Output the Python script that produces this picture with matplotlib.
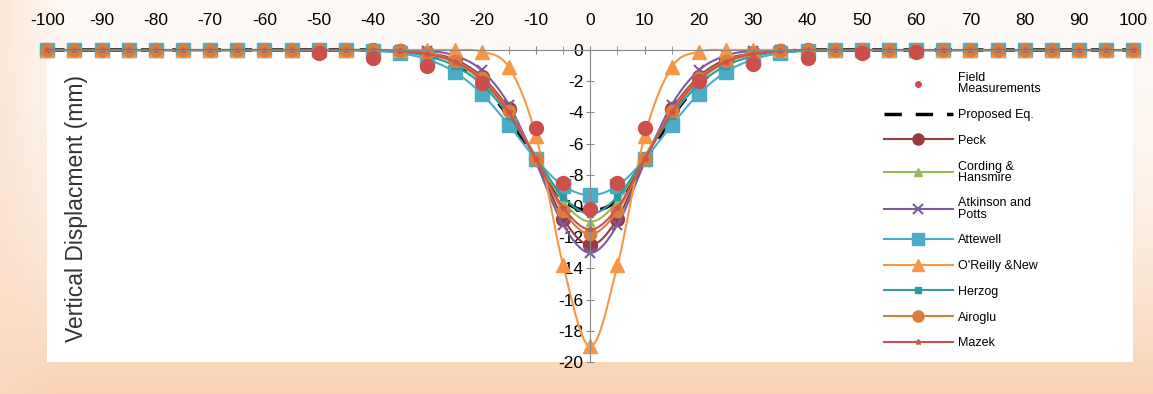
import numpy as np
import matplotlib.pyplot as plt
from matplotlib.lines import Line2D
from matplotlib.ticker import MultipleLocator

plt.rcParams['font.family'] = ['Liberation Sans', 'DejaVu Sans']

# half profile x = 0, 5, ..., 100 (mirrored about the tunnel axis)
half_x = np.arange(0, 105, 5)

field_x = [-50, -40, -30, -20, -10, -5, 0, 5, 10, 20, 30, 40, 50, 60]
field_y = [-0.2, -0.5, -1.0, -2.1, -5.0, -8.5, -10.2, -8.5, -5.0, -2.0, -0.9, -0.5, -0.2, -0.1]

proposed = [-10.3, -9.6, -7.2, -4.3, -2.2, -0.9, -0.3, -0.1, 0, 0, 0, 0, 0, 0, 0, 0, 0, 0, 0, 0, 0]
peck = [-12.5, -10.8, -7.0, -3.8, -1.7, -0.6, -0.2, -0.05, 0, 0, 0, 0, 0, 0, 0, 0, 0, 0, 0, 0, 0]
cording = [-11.0, -9.7, -6.8, -4.0, -2.0, -0.8, -0.3, -0.1, 0, 0, 0, 0, 0, 0, 0, 0, 0, 0, 0, 0, 0]
atkinson = [-13.0, -11.2, -7.2, -3.5, -1.3, -0.35, -0.05, 0, 0, 0, 0, 0, 0, 0, 0, 0, 0, 0, 0, 0, 0]
attewell = [-9.3, -8.7, -7.0, -4.8, -2.8, -1.4, -0.6, -0.2, -0.05, 0, 0, 0, 0, 0, 0, 0, 0, 0, 0, 0, 0]
oreilly = [-19.0, -13.8, -5.5, -1.1, -0.1, 0, 0, 0, 0, 0, 0, 0, 0, 0, 0, 0, 0, 0, 0, 0, 0]
herzog = [-10.5, -9.4, -6.9, -4.2, -2.2, -1.0, -0.4, -0.1, 0, 0, 0, 0, 0, 0, 0, 0, 0, 0, 0, 0, 0]
airoglu = [-11.8, -10.3, -7.0, -3.9, -1.8, -0.7, -0.2, -0.05, 0, 0, 0, 0, 0, 0, 0, 0, 0, 0, 0, 0, 0]
mazek = [-11.5, -10.1, -7.0, -4.0, -1.9, -0.75, -0.25, -0.05, 0, 0, 0, 0, 0, 0, 0, 0, 0, 0, 0, 0, 0]


def full(h):
    h = np.asarray(h, dtype=float)
    return np.concatenate([h[:0:-1], h])


def smooth(xs, ys, n=12):
    # Catmull-Rom path through the points, like Excel's smoothed line
    xs = np.asarray(xs, float)
    ys = np.asarray(ys, float)
    px = np.concatenate([[2 * xs[0] - xs[1]], xs, [2 * xs[-1] - xs[-2]]])
    py = np.concatenate([[2 * ys[0] - ys[1]], ys, [2 * ys[-1] - ys[-2]]])
    t = np.linspace(0, 1, n, endpoint=False)[:, None]
    ox, oy = [], []
    for i in range(1, len(px) - 2):
        for p, o in ((px, ox), (py, oy)):
            p0, p1, p2, p3 = p[i - 1], p[i], p[i + 1], p[i + 2]
            o.append((0.5 * (2 * p1 + (-p0 + p2) * t + (2 * p0 - 5 * p1 + 4 * p2 - p3) * t ** 2
                             + (-p0 + 3 * p1 - 3 * p2 + p3) * t ** 3)).ravel())
    return np.concatenate(ox + [[xs[-1]]]), np.concatenate(oy + [[ys[-1]]])


x = np.concatenate([-half_x[:0:-1], half_x])

fig = plt.figure(figsize=(11.53, 3.94), dpi=100)

# peach gradient background
bg = fig.add_axes([0, 0, 1, 1], zorder=-10)
h, w = 394, 1153
top = np.array([254, 250, 247]) / 255.
bot = np.array([249, 210, 178]) / 255.
t = np.linspace(0, 1, h)[:, None, None] ** 2
img = top + (bot - top) * t
left = np.clip(1 - np.linspace(0, 1, w) / 0.06, 0, 1)[None, :, None]
img = img + (np.array([250, 220, 196]) / 255. - img) * left * 0.6
img = np.broadcast_to(img, (h, w, 3))
bg.imshow(img, aspect='auto', extent=[0, 1, 0, 1])
bg.axis('off')

ax = fig.add_axes([0.041, 0.081, 0.942, 0.792])
ax.set_facecolor('white')

series = [
    ('Proposed Eq.', proposed, dict(color='black', ls=(0, (5, 4)), lw=2.5, marker='')),
    ('Peck', peck, dict(color='#9B3A3E', marker='o', ms=10, lw=1.5)),
    ('Cording &\nHansmire', cording, dict(color='#9BBB59', marker='^', ms=6, lw=1.5)),
    ('Atkinson and\nPotts', atkinson, dict(color='#7A5B9E', marker='x', ms=7, mew=1.5, lw=1.5)),
    ('Attewell', attewell, dict(color='#4BACC6', marker='s', ms=10, lw=1.5)),
    ("O'Reilly &New", oreilly, dict(color='#F79646', marker='^', ms=10, lw=1.5)),
    ('Herzog', herzog, dict(color='#2C9BA2', marker='s', ms=5, lw=1.5)),
    ('Airoglu', airoglu, dict(color='#D87F3C', marker='o', ms=9, lw=1.5)),
    ('Mazek', mazek, dict(color='#D0504D', marker='*', ms=4, lw=1.5)),
]

ax.plot(field_x, field_y, ls='none', marker='o', ms=10, color='#CD4F4C',
        clip_on=False, zorder=5)
handles = [Line2D([], [], ls='none', marker='o', ms=4, color='#CD4F4C')]
labels = ['Field\nMeasurements']
for name, vals, st in series:
    y = full(vals)
    sx, sy = smooth(x, y)
    line_st = {k: v for k, v in st.items() if k in ('color', 'ls', 'lw')}
    mark_st = {k: v for k, v in st.items() if k not in ('ls', 'lw')}
    ax.plot(sx, sy, clip_on=False, **line_st)
    if st['marker']:
        ax.plot(x, y, ls='none', clip_on=False, **mark_st)
    leg_st = dict(st)
    if 'ms' in leg_st:
        leg_st['ms'] = min(leg_st['ms'], 8)
    handles.append(Line2D([], [], **leg_st))
    labels.append(name)

ax.set_xlim(-100, 100)
ax.set_ylim(-20, 0)
ax.spines['left'].set_position(('data', 0))
ax.spines['top'].set_position(('data', 0))
ax.spines['right'].set_visible(False)
ax.spines['bottom'].set_visible(False)
for s in ('left', 'top'):
    ax.spines[s].set_color('#888888')
ax.xaxis.set_ticks_position('top')
ax.xaxis.set_minor_locator(MultipleLocator(5))
ax.tick_params(axis='x', which='both', direction='inout', length=6, color='#888888',
               labelsize=12.5, pad=13)
ax.tick_params(axis='y', direction='inout', length=6, color='#888888', labelsize=12.5, pad=2)
ax.set_xticks(np.arange(-100, 101, 10))
ax.set_xticklabels([str(v) for v in range(-100, 101, 10)])
ax.set_yticks(np.arange(-20, 1, 2))
ax.set_yticklabels(['%d' % v for v in np.arange(-20, 1, 2)])

fig.text(0.066, 0.47, 'Vertical Displacment (mm)', rotation=90, ha='center', va='center',
         fontsize=16.5, color='#333333')

leg = ax.legend(handles, labels, loc='upper left', bbox_to_anchor=(0.76, 0.965),
                frameon=False, fontsize=9, labelspacing=1.1, handlelength=5.5,
                handletextpad=0.4)
for txt in leg.get_texts():
    txt.set_linespacing(0.9)

fig.savefig('out.png', dpi=100)
